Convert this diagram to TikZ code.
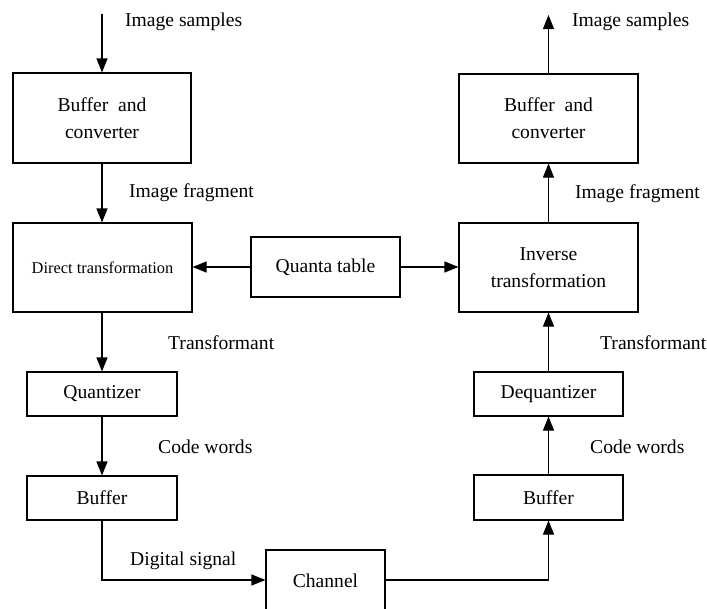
\documentclass[tikz,border=0pt]{standalone}
\usepackage{fontspec}
\setmainfont{Liberation Serif}
\usetikzlibrary{arrows.meta}
\begin{document}
\begin{tikzpicture}[x=1pt,y=-1pt,
  box/.style={draw,line width=1.1pt,inner sep=0pt,align=center,font=\fontsize{19.6}{27}\selectfont},
  lbl/.style={anchor=west,inner sep=0pt,font=\fontsize{19.6}{23}\selectfont},
  conn/.style={line width=1.1pt},
  arr/.style={conn,-{Triangle[length=14pt,width=11pt]}}]
\useasboundingbox (0,0) rectangle (707,608);
\clip (0,0) rectangle (707,608);
% left column
\node[box,minimum width=178pt,minimum height=90pt] (bufL) at (102,118) {Buffer\ \ and\\converter};
\node[box,minimum width=179pt,minimum height=89pt,font=\fontsize{16.4}{20}\selectfont] (dirT) at (102.5,267.5) {Direct transformation};
\node[box,minimum width=150pt,minimum height=44pt] (quant) at (102,394) {Quantizer};
\node[box,minimum width=150pt,minimum height=44pt] (bufL2) at (102,498) {Buffer};
% center
\node[box,minimum width=149pt,minimum height=60pt] (quanta) at (325.5,267) {Quanta table};
\node[box,minimum width=119pt,minimum height=62pt] (chan) at (325.5,581) {Channel};
% right column
\node[box,minimum width=179pt,minimum height=89pt] (bufR) at (548.5,118.5) {Buffer\ \ and\\converter};
\node[box,minimum width=179pt,minimum height=89pt] (invT) at (548.5,267.5) {Inverse\\transformation};
\node[box,minimum width=149pt,minimum height=44pt] (deq) at (548.5,394) {Dequantizer};
\node[box,minimum width=149pt,minimum height=45pt] (bufR2) at (548.5,497.5) {Buffer};
% free ends and corners
\coordinate (inL) at (102,14);
\coordinate (outR) at (548.5,15);
\coordinate (cL) at (102,580);
\coordinate (cR) at (548.5,580);
% connectors
\draw[arr] (inL) -- (bufL.north);
\draw[arr] (bufL.south) -- (dirT.north -| bufL.south);
\draw[arr] (dirT.south -| quant.north) -- (quant.north);
\draw[arr] (quant.south) -- (bufL2.north);
\draw[arr] (bufL2.south) -- (cL) -- (cL -| chan.west);
\draw[arr] (cR -| chan.east) -- (cR) -- (bufR2.south);
\draw[arr] (bufR2.north) -- (deq.south);
\draw[arr] (deq.north) -- (deq.north |- invT.south);
\draw[arr] (invT.north) -- (bufR.south);
\draw[arr] (bufR.north) -- (outR);
\draw[arr] (quanta.west) -- (quanta.west -| dirT.east);
\draw[arr] (quanta.east) -- (quanta.east -| invT.west);
% labels
\node[lbl] (l1) at (125,22) {Image samples};
\node[lbl] (l2) at (572,22) {Image samples};
\node[lbl] (l3) at (129,193) {Image fragment};
\node[lbl] (l4) at (575,194) {Image fragment};
\node[lbl] (l5) at (168,343) {Transformant};
\node[lbl] (l6) at (600,343) {Transformant};
\node[lbl] (l7) at (158,447) {Code words};
\node[lbl] (l8) at (590,447) {Code words};
\node[lbl] (l9) at (130,561) {Digital signal};
\end{tikzpicture}
\end{document}
